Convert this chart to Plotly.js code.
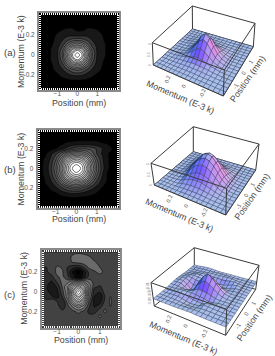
<!DOCTYPE html>
<html><head><meta charset="utf-8">
<script src="https://cdn.plot.ly/plotly-3.0.1.min.js"></script>
<style>html,body{margin:0;padding:0;background:#fff}#p{width:275px;height:356px}</style>
</head><body><div id="p"></div>
<script>
var positions=[-2,-1.75,-1.5,-1.25,-1,-.75,-.5,-.25,0,.25,.5,.75,1,1.25,1.5,1.75,2];
var momenta=[.4,.35,.3,.25,.2,.15,.1,.05,0,-.05,-.1,-.15,-.2,-.25,-.3,-.35,-.4];
var panelLabels=["(a)","(b)","(c)"];
var xTitle="Position (mm)", yTitle="Momentum (E-3 k)";
var xTickVals=[-1,0,1], yTickVals=[-.2,0,.2], yTickText=["-0.2","0","0.2"];
var zA=[
[0,0,0,0,0,0,0,0,0,0,0,0,0,0,0,0,0],
[0,0,0,0,0,0,0,0,0,0,0,0,0,0,0,0,0],
[0,0,0,0,0,0,.01,.01,.01,.01,.01,.01,0,0,0,0,0],
[0,0,0,0,.01,.03,.04,.04,.02,.02,.04,.04,.03,.02,.01,0,0],
[0,0,0,.01,.04,.06,.08,.08,.07,.08,.08,.07,.05,.03,.01,0,0],
[0,0,0,.02,.05,.10,.16,.21,.23,.21,.16,.10,.07,.04,.01,0,0],
[0,0,.01,.03,.07,.15,.29,.43,.50,.43,.29,.15,.08,.05,.02,0,0],
[0,0,.01,.04,.09,.23,.47,.72,.84,.73,.47,.23,.09,.05,.02,0,0],
[0,0,.01,.04,.09,.26,.55,.85,1,.85,.55,.26,.09,.05,.02,0,0],
[0,0,.01,.04,.08,.22,.46,.72,.85,.72,.46,.22,.08,.04,.01,0,0],
[0,0,0,.03,.07,.15,.30,.46,.54,.46,.30,.15,.07,.03,.01,0,0],
[0,0,0,.02,.05,.09,.16,.23,.27,.23,.16,.09,.05,.02,0,0,0],
[0,0,0,.01,.02,.05,.08,.11,.12,.11,.07,.04,.02,.01,0,0,0],
[0,0,0,0,.01,.01,.02,.03,.03,.03,.02,.01,.01,0,0,0,0],
[0,0,0,0,0,0,0,0,0,0,0,0,0,0,0,0,0],
[0,0,0,0,0,0,0,0,0,0,0,0,0,0,0,0,0],
[0,0,0,0,0,0,0,0,0,0,0,0,0,0,0,0,0]];
var zB=[
[0,0,0,0,0,0,0,0,0,0,0,0,0,0,0,0,0],
[0,0,0,0,0,0,0,0,0,0,0,0,0,0,0,0,0],
[0,0,0,0,0,.01,.01,.01,.01,.01,.01,.01,.01,0,0,0,0],
[0,0,0,0,.01,.02,.04,.05,.06,.07,.07,.07,.06,.04,.03,.01,0],
[0,0,0,.01,.03,.07,.11,.17,.21,.22,.22,.20,.15,.10,.06,.03,0],
[0,0,.02,.07,.14,.23,.34,.43,.46,.45,.37,.26,.16,.09,.04,.01,0],
[0,0,.04,.10,.20,.35,.53,.67,.72,.68,.55,.38,.22,.11,.04,.01,0],
[0,.01,.05,.12,.25,.44,.67,.85,.92,.86,.69,.46,.26,.12,.04,.01,0],
[0,.01,.05,.13,.27,.48,.72,.92,1,.93,.74,.50,.28,.13,.04,.01,0],
[0,.01,.05,.12,.25,.44,.68,.85,.93,.86,.68,.44,.25,.11,.03,.01,0],
[0,0,.04,.10,.20,.36,.55,.69,.75,.69,.54,.35,.19,.09,.03,0,0],
[0,0,.03,.07,.14,.25,.37,.47,.50,.46,.35,.23,.13,.06,.02,0,0],
[0,0,.01,.04,.08,.14,.20,.25,.27,.24,.18,.12,.07,.03,.01,0,0],
[0,0,0,.02,.03,.06,.09,.11,.11,.10,.07,.05,.03,.01,0,0,0],
[0,0,0,0,.01,.01,.02,.03,.03,.02,.02,.01,0,0,0,0,0],
[0,0,0,0,0,0,0,0,0,0,0,0,0,0,0,0,0],
[0,0,0,0,0,0,0,0,0,0,0,0,0,0,0,0,0]];
var zC=[
[.03,.03,.02,.02,.03,.04,.06,.08,.09,.08,.07,.05,.03,.03,.03,.03,.03],
[.03,.03,.02,.02,.04,.05,.07,.12,.13,.13,.11,.07,.04,.02,.02,.03,.03],
[.03,.03,.02,.03,.06,.07,.06,.11,.13,.15,.14,.11,.07,.03,.02,.03,.05],
[.03,.02,.02,.05,.11,.09,.02,-.02,-.03,.03,.12,.13,.10,.06,.03,.04,.07],
[.03,.02,.01,.05,.12,.11,.01,-.16,-.25,-.12,.05,.09,.12,.08,.04,.05,.08],
[.03,.02,0,0,.09,.12,.04,-.10,-.20,-.08,.05,.08,.07,.09,.06,.05,.07],
[.04,.02,-.03,-.07,.03,.13,.14,.25,.35,.28,.15,.07,.05,.08,.08,.05,.05],
[.05,.03,-.05,-.11,-.05,.11,.28,.55,.75,.57,.25,.04,.01,.05,.08,.06,.03],
[.06,.04,-.04,-.09,-.08,.07,.25,.72,1,.75,.25,-.03,-.05,.06,.08,.06,.03],
[.07,.06,-.01,-.05,-.10,.03,.23,.58,.82,.60,.20,-.06,-.13,.03,.10,.05,.03],
[.05,.06,.04,.09,.02,-.06,.14,.40,.58,.40,.10,-.09,-.10,.05,.11,.05,.03],
[.04,.05,.05,.07,.05,-.03,.07,.20,.32,.22,.03,-.07,-.02,.09,.10,.04,.03],
[.03,.04,.05,.05,.07,.04,.03,.08,.13,.08,0,-.02,.07,.11,.06,.03,.03],
[.03,.03,.04,.04,.06,.06,.04,.03,.05,.03,.04,.07,.11,.08,.04,.03,.03],
[.03,.03,.03,.03,.04,.05,.04,.03,.03,.04,.07,.09,.07,.04,.03,.03,.03],
[.03,.03,.03,.03,.03,.03,.03,.03,.03,.04,.05,.05,.04,.03,.03,.03,.03],
[.03,.03,.03,.03,.03,.03,.03,.03,.03,.03,.03,.03,.03,.03,.03,.03,.03]];
var zSets=[zA,zB,zC];

var W=275,H=356;
var frames=[
 {l:39,r:119.3,t:12.7,b:90,xr:[-1.915,2.1],yr:[-.35,.423],start:.03,size:.075,zmin:0,zmax:1,lab:53,bg:'#000',ty:21.7,tx:79,txy:103},
 {l:37.7,r:119.3,t:130,b:207.7,xr:[-1.87,2.09],yr:[-.404,.393],start:.03,size:.065,zmin:0,zmax:1,lab:169,bg:'#000',ty:20.7,tx:79,txy:219},
 {l:41.7,r:120,t:250,b:327.7,xr:[-1.72,1.95],yr:[-.366,.423],start:-.22,size:.08,zmin:-.25,zmax:1,lab:294,bg:'#3c3c3c',ty:24,tx:81,txy:340}
];
var greyA=[[0,'#000'],[.06,'#222'],[.2,'#505050'],[.4,'#808080'],[.6,'#b0b0b0'],[.88,'#dcdcdc'],[.95,'#fff'],[1,'#fff']];
var greyC=[[0,'#000'],[.12,'#1e1e1e'],[.224,'#3c3c3c'],[.3,'#6a6a6a'],[.36,'#808080'],[.6,'#b8b8b8'],[.9,'#e0e0e0'],[.96,'#fff'],[1,'#fff']];
// box corners on the page: L left, B back, R right, F front
var boxes=[
 {floor:{F:[223.3,96],R:[253.3,46.7],B:[192.5,29],L:[153.3,65]},top:{F:[224.3,70],R:[255,23.3],B:[192.3,6],L:[152.3,42.7]},zr:[0,1.05],zticks:[0,.5,1],
  mt:[180,97],pt:[247.7,79.3]},
 {floor:{F:[225.7,215],R:[255.7,170],B:[193.3,151.7],L:[154.3,185]},top:{F:[226.7,188.3],R:[259,144],B:[193.3,126.7],L:[151,163.3]},zr:[0,1.03],zticks:[0,.5,1],
  mt:[179,215],pt:[251.7,196.7]},
 {floor:{F:[225.7,335.3],R:[255.7,289.3],B:[194.3,272.7],L:[154.3,306]},top:{F:[226.7,309.3],R:[259,265.3],B:[194.3,247.7],L:[151,282.7]},zr:[-.43,1.03],zticks:[-.2,0,.2,.4,.6,.8,1],
  mt:[183.7,338.3],pt:[254,317.7]}
];
var txt='#444',grey='#555',font='"Liberation Sans",Arial,sans-serif';

// unit square -> quadrilateral homography
function homo(q){
  var x0=q.F[0],y0=q.F[1],x1=q.R[0],y1=q.R[1],x2=q.B[0],y2=q.B[1],x3=q.L[0],y3=q.L[1];
  var sx=x0-x1+x2-x3,sy=y0-y1+y2-y3,dx1=x1-x2,dx2=x3-x2,dy1=y1-y2,dy2=y3-y2;
  var d=dx1*dy2-dx2*dy1,g=(sx*dy2-dx2*sy)/d,h=(dx1*sy-sx*dy1)/d;
  var a=x1-x0+g*x1,b=x3-x0+h*x3,e=y1-y0+g*y1,f=y3-y0+h*y3;
  return function(u,v){var w=g*u+h*v+1;return [(a*u+b*v+x0)/w,(e*u+f*v+y0)/w];};
}
function cl(v){return Math.max(-1,Math.min(1,v));}
function c8(v){return Math.round(Math.max(0,Math.min(255,v)));}

var data=[],annotations=[],shapes=[];
var layout={width:W,height:H,margin:{l:0,r:0,t:0,b:0},showlegend:false,paper_bgcolor:'#fff',plot_bgcolor:'rgba(0,0,0,0)',font:{family:font,color:txt}};

frames.forEach(function(f,i){
  var n=i?String(i+1):'';
  shapes.push({type:'rect',xref:'x'+n+' domain',yref:'y'+n+' domain',x0:0,x1:1,y0:0,y1:1,fillcolor:f.bg,line:{width:0},layer:'below'});
  data.push({type:'contour',x:positions,y:momenta,z:zSets[i],xaxis:'x'+n,yaxis:'y'+n,showscale:false,
    zmin:f.zmin,zmax:f.zmax,colorscale:i==2?greyC:greyA,
    contours:{coloring:'fill',start:f.start,end:1,size:f.size},
    line:{color:'rgba(0,0,0,.8)',width:.7,smoothing:1.2},hoverinfo:'skip'});
  var common={showgrid:false,zeroline:false,ticks:'inside',ticklen:0,mirror:'allticks',showline:true,linecolor:'#8a8a8a',linewidth:2,
    tickfont:{size:6.5,color:grey,family:font},layer:'above traces'};
  layout['xaxis'+n]=Object.assign({},common,{domain:[f.l/W,f.r/W],range:f.xr,anchor:'y'+n,tickvals:xTickVals,ticklabelstandoff:-4,
    minor:{dtick:.1,ticks:'inside',ticklen:2,tickcolor:'#fff',tickwidth:1}});
  layout['yaxis'+n]=Object.assign({},common,{domain:[1-f.b/H,1-f.t/H],range:f.yr,anchor:'x'+n,tickvals:yTickVals,ticktext:yTickText,ticklabelstandoff:1,
    minor:{dtick:.02,ticks:'inside',ticklen:2,tickcolor:'#fff',tickwidth:1}});
  annotations.push({xref:'paper',yref:'paper',x:2/W,y:1-f.lab/H,xanchor:'left',yanchor:'middle',showarrow:false,text:panelLabels[i],font:{size:9.5,color:txt,family:font}});
  annotations.push({xref:'paper',yref:'paper',x:f.ty/W,y:1-(f.t+f.b)/2/H,xanchor:'center',yanchor:'middle',showarrow:false,textangle:-90,text:yTitle,font:{size:8.8,color:txt,family:font}});
  annotations.push({xref:'paper',yref:'paper',x:f.tx/W,y:1-f.txy/H,xanchor:'center',yanchor:'middle',showarrow:false,text:xTitle,font:{size:8.8,color:txt,family:font}});
});

// hidden pixel-scaled axes holding the projected surfaces
layout.xaxis4={domain:[135/W,1],range:[135,275],visible:false,fixedrange:true};
layout.yaxis4={domain:[0,1],range:[356,0],visible:false,fixedrange:true,anchor:'x4'};
function seg(a,b,col,w){data.push({type:'scatter',mode:'lines',x:[a[0],b[0]],y:[a[1],b[1]],xaxis:'x4',yaxis:'y4',line:{color:col||'#3a3a3a',width:w||1},hoverinfo:'skip'});}

boxes.forEach(function(b,k){
  var fl=homo(b.floor),tp=homo(b.top),z=zSets[k];
  function P(xv,yv,zv){
    var u=(xv+2)/4,v=(yv+.4)/.8,h=(zv-b.zr[0])/(b.zr[1]-b.zr[0]);
    var a=fl(u,v),c=tp(u,v);
    return [a[0]+(c[0]-a[0])*h,a[1]+(c[1]-a[1])*h];
  }
  var F=b.floor,T=b.top,edge='#3a3a3a';
  seg(F.B,T.B);seg(F.L,F.B);seg(F.B,F.R);
  var rows=momenta.length,cols=positions.length,du=1/(cols-1),dv=1/(rows-1),zs=b.zr[1]-b.zr[0];
  // back to front: rows run from high momentum, columns from high position
  for(var r=0;r<rows-1;r++){
    for(var c=cols-2;c>=0;c--){
      var z00=z[r+1][c],z10=z[r+1][c+1],z01=z[r][c],z11=z[r][c+1];
      var dzu=((z10+z11-z00-z01)/2)/zs/du,dzv=((z01+z11-z00-z10)/2)/zs/dv;
      var sn=cl((dzu-dzv)/4.5),tn=cl((dzu+dzv)/4.5);
      var R=168-70*Math.max(sn,0)+62*Math.max(-sn,0)+14*Math.max(tn,0)-110*Math.max(-tn,0);
      var G=192-75*Math.max(sn,0)-5*Math.max(-sn,0)-45*Math.max(tn,0)-60*Math.max(-tn,0);
      var B=236+15*Math.max(sn,0)-12*Math.max(-sn,0)+10*Math.max(tn,0)-110*Math.max(-tn,0);
      var p=[P(positions[c],momenta[r+1],z00),P(positions[c+1],momenta[r+1],z10),P(positions[c+1],momenta[r],z11),P(positions[c],momenta[r],z01)];
      p.push(p[0]);
      data.push({type:'scatter',mode:'lines',x:p.map(function(q){return q[0];}),y:p.map(function(q){return q[1];}),xaxis:'x4',yaxis:'y4',
        fill:'toself',fillcolor:'rgb('+c8(R)+','+c8(G)+','+c8(B)+')',line:{color:'rgba(40,48,75,.8)',width:.5},hoverinfo:'skip'});
    }
  }
  seg(F.L,F.F);seg(F.F,F.R,edge,1);seg(F.L,T.L);seg(F.F,T.F);seg(F.R,T.R);
  seg(T.L,T.B);seg(T.B,T.R);seg(T.R,T.F);seg(T.F,T.L);

  // tick labels and axis titles along the box edges
  function note(pt,text,size,angle,color){annotations.push({xref:'paper',yref:'paper',x:pt[0]/W,y:1-pt[1]/H,xanchor:'center',yanchor:'middle',showarrow:false,textangle:angle,text:text,font:{size:size,color:color,family:font}});}
  yTickVals.forEach(function(m,j){var q=fl(0,(m+.4)/.8);note([q[0]-1,q[1]+7],yTickText[j],5.5,-70,grey);});
  xTickVals.forEach(function(x){var q=fl((x+2)/4,0);note([q[0]+3.5,q[1]+5],String(x),5.8,-60,grey);});
  b.zticks.forEach(function(t){var q=P(-2,.4,t);note([q[0]-3,q[1]],String(t),3.5,-90,'#888');});
  note(b.mt,yTitle,8.8,23,txt);
  note(b.pt,xTitle,8.8,-55,txt);
});
layout.annotations=annotations;layout.shapes=shapes;
Plotly.newPlot('p',data,layout,{displayModeBar:false,staticPlot:true});
</script></body></html>
